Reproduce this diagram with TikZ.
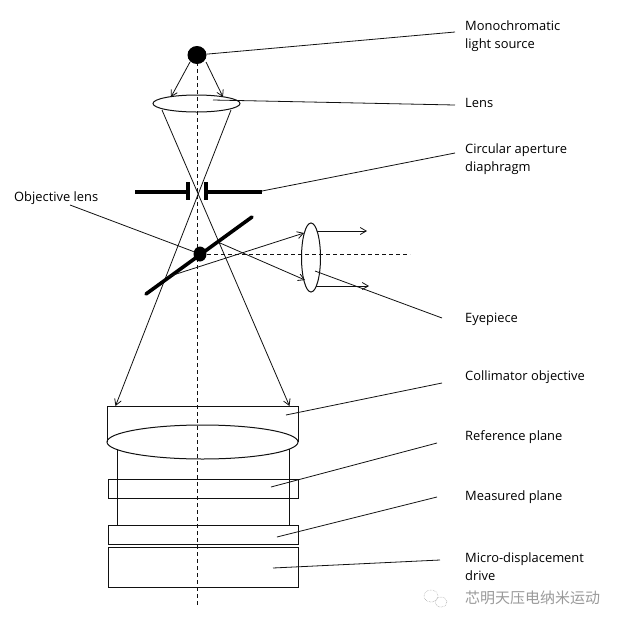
\documentclass[tikz,border=0pt]{standalone}
\usepackage{fontspec}
\setmainfont{Open Sans}
\newfontfamily\cjkfont{Noto Sans CJK SC}
\usepackage{xcolor}
\usetikzlibrary{arrows.meta,shapes.geometric}
\definecolor{ink}{HTML}{111111}
\definecolor{markgrey}{HTML}{9A9A9A}

\begin{document}
\begin{tikzpicture}[x=1pt, y=-1pt, font=\fontsize{12.9}{18}\selectfont,
  thin line/.style={draw=ink, line width=0.8pt},
  ray/.style={draw=ink, line width=0.8pt, -{Straight Barb[length=6pt,width=7pt]}},
  axisline/.style={draw=ink, line width=0.9pt, dash pattern=on 4pt off 3pt},
  plate/.style={draw=ink, line width=1pt},
  stopbar/.style={draw=black, line width=3.6pt},
  lensb/.style={ellipse, draw=ink, line width=1pt, inner sep=0pt},
  dotb/.style={ellipse, fill=black, inner sep=0pt},
  lbl/.style={anchor=west, inner sep=0pt, align=left, text=black}]

\useasboundingbox (0,0) rectangle (619,625);

% axes
\coordinate (axtop) at (197,62);
\coordinate (axbot) at (197,605);
\draw[axisline] (axtop) -- (axbot);
\coordinate (sidel) at (207,254);
\coordinate (sider) at (410,254);
\draw[axisline] (sidel) -- (sider);

% source and first lens
\node[dotb, minimum width=19pt, minimum height=18pt] (source) at (197,55) {};
\node[lensb, minimum width=87pt, minimum height=17pt] (lens) at (196.5,103.5) {};
\coordinate (srcl) at (190,62);
\coordinate (srcr) at (206,62);
\coordinate (lensl) at (171,97);
\coordinate (lensr) at (223,97);
\draw[ray] (srcl) -- (lensl);
\draw[ray] (srcr) -- (lensr);

% rays down to the collimator
\coordinate (rayl) at (162,110);
\coordinate (rayr) at (231,110);
\coordinate (coll) at (115.5,406);
\coordinate (colr) at (289.5,406);
\draw[ray] (rayl) -- (colr);
\draw[ray] (rayr) -- (coll);

% aperture
\coordinate (stopa) at (135,192);
\coordinate (stopb) at (188,192);
\coordinate (stopc) at (206,192);
\coordinate (stopd) at (262,192);
\coordinate (bara) at (188,182);
\coordinate (barb) at (188,200);
\coordinate (barc) at (206,182);
\coordinate (bard) at (206,200);
\draw[stopbar] (stopa) -- (stopb);
\draw[stopbar] (stopc) -- (stopd);
\draw[stopbar, line width=4.4pt] (bara) -- (barb);
\draw[stopbar, line width=4.4pt] (barc) -- (bard);

% mirror
\coordinate (mira) at (146,294);
\coordinate (mirb) at (252,217);
\draw[stopbar, line cap=round] (mira) -- (mirb);
\node[dotb, minimum width=13pt, minimum height=15pt] (objdot) at (200,254) {};

% eyepiece
\node[lensb, minimum width=19pt, minimum height=69pt] (eye) at (311,257.5) {};
\coordinate (refa) at (220,243);
\coordinate (refb) at (305,280);
\coordinate (refc) at (167,277);
\coordinate (refd) at (304,233);
\draw[ray] (refa) -- (refb);
\draw[ray] (refc) -- (refd);
\coordinate (outa) at (317,231);
\coordinate (outb) at (367,231);
\coordinate (outc) at (316,286);
\coordinate (outd) at (369,286);
\draw[ray] (outa) -- (outb);
\draw[ray] (outc) -- (outd);

% collimator and plates
\coordinate (cola) at (107,442);
\coordinate (colb) at (107,406);
\coordinate (colc) at (298,406);
\coordinate (cold) at (298,442);
\draw[plate] (cola) -- (colb) -- (colc) -- (cold);
\node[lensb, minimum width=191pt, minimum height=34pt] (collens) at (202.5,442) {};
\coordinate (wala) at (117,449);
\coordinate (walb) at (117,526);
\coordinate (walc) at (289,449);
\coordinate (wald) at (289,525);
\draw[plate] (wala) -- (walb);
\draw[plate] (walc) -- (wald);
\node[plate, draw, minimum width=190pt, minimum height=19pt, inner sep=0pt] (refplane) at (203,488.5) {};
\node[plate, draw, minimum width=190pt, minimum height=19pt, inner sep=0pt] (measplane) at (203,534.5) {};
\node[plate, draw, minimum width=190pt, minimum height=40pt, inner sep=0pt] (drive) at (203,567) {};

% labels
\node[lbl] (lblsource) at (465,36) {Monochromatic\\light source};
\node[lbl] (lbllens) at (465,103) {Lens};
\node[lbl] (lblstop) at (465,159) {Circular aperture\\diaphragm};
\node[lbl] (lblobj) at (14,198) {Objective lens};
\node[lbl] (lbleye) at (465,319) {Eyepiece};
\node[lbl] (lblcol) at (465,377) {Collimator objective};
\node[lbl] (lblref) at (465,437) {Reference plane};
\node[lbl] (lblmeas) at (465,497) {Measured plane};
\node[lbl] (lbldrive) at (465,567) {Micro-displacement\\drive};

% leaders
\coordinate (ldsource) at (455,32);
\coordinate (ldlensa) at (213,100);
\coordinate (ldlensb) at (455,105);
\coordinate (ldstopa) at (262,191);
\coordinate (ldstopb) at (455,153);
\coordinate (ldobja) at (70,205);
\coordinate (ldeyea) at (315,271);
\coordinate (ldeyeb) at (442,318);
\coordinate (ldcola) at (286,415);
\coordinate (ldcolb) at (442,383);
\coordinate (ldrefa) at (271,487);
\coordinate (ldrefb) at (437,443);
\coordinate (ldmeasa) at (277,537);
\coordinate (ldmeasb) at (437,497);
\coordinate (lddrivea) at (273,568);
\coordinate (lddriveb) at (440,560);
\draw[thin line] (source) -- (ldsource);
\draw[thin line] (ldlensa) -- (ldlensb);
\draw[thin line] (ldstopa) -- (ldstopb);
\draw[thin line] (ldobja) -- (objdot);
\draw[thin line] (ldeyea) -- (ldeyeb);
\draw[thin line] (ldcola) -- (ldcolb);
\draw[thin line] (ldrefa) -- (ldrefb);
\draw[thin line] (ldmeasa) -- (ldmeasb);
\draw[thin line] (lddrivea) -- (lddriveb);

% watermark
\draw[markgrey, line width=0.5pt, densely dotted] (431,596) ellipse (7pt and 6pt);
\draw[markgrey, line width=0.5pt, densely dotted] (441,602) ellipse (6pt and 5pt);
\node[lbl, font=\cjkfont\fontsize{15}{15}\selectfont, text=markgrey] (mark) at (465,598) {芯明天压电纳米运动};

\end{tikzpicture}
\end{document}
